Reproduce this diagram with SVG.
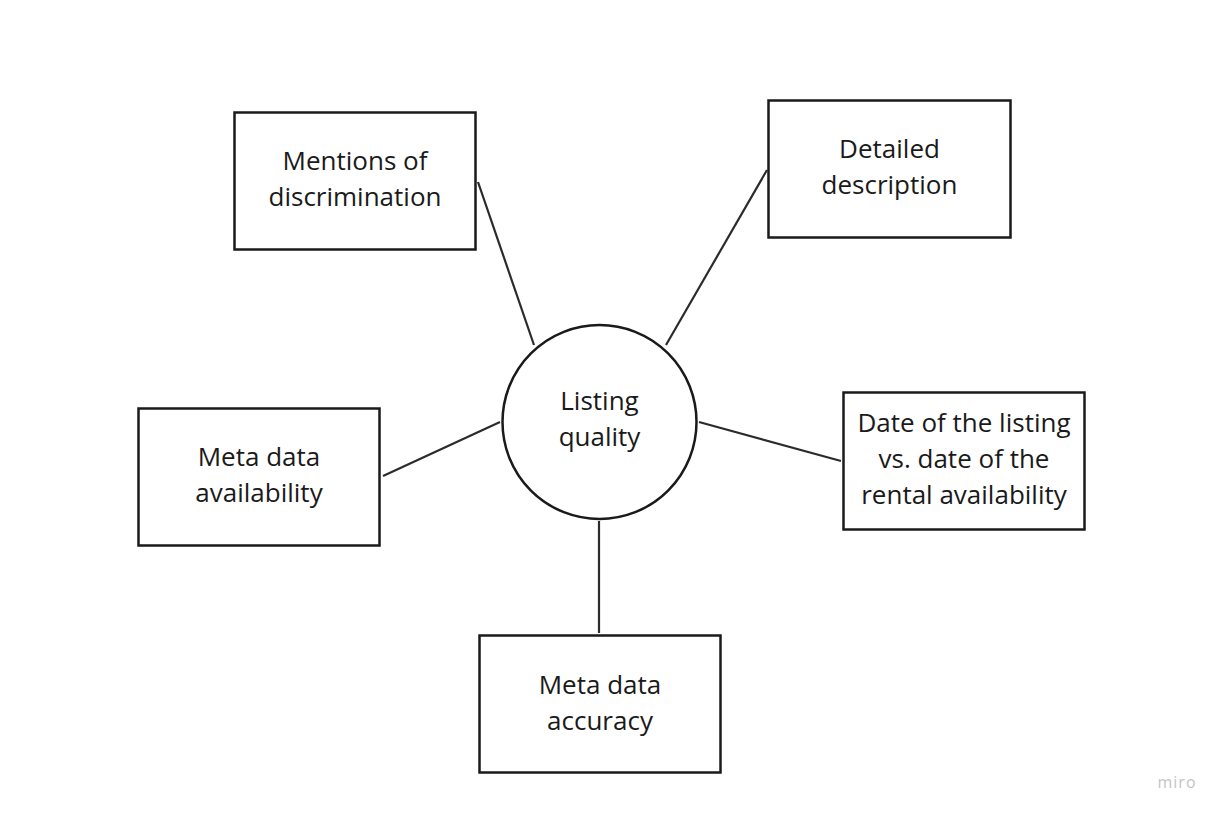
<svg xmlns="http://www.w3.org/2000/svg" width="1224" height="816" viewBox="0 0 1224 816">
<style>
.box{fill:#fff;stroke:#1a1a1a;stroke-width:2.5}
.t{font-family:"Open Sans","Noto Sans",sans-serif;font-size:26px;fill:#1a1a1a;text-anchor:middle}
.c{stroke:#2b2b2b;stroke-width:2.2;fill:none}
</style>
<rect width="1224" height="816" fill="#fff"/>
<g id="connectors">
<line class="c" x1="534" y1="345" x2="478" y2="182"/>
<line class="c" x1="666" y1="345" x2="767" y2="170"/>
<line class="c" x1="500" y1="422" x2="383" y2="476"/>
<line class="c" x1="699" y1="422" x2="841" y2="461"/>
<line class="c" x1="599" y1="521" x2="599" y2="633"/>
</g>
<g id="center">
<circle class="box" cx="599.5" cy="422" r="97"/>
<text class="t" x="599.5" y="410">Listing</text>
<text class="t" x="599.5" y="446">quality</text>
</g>
<g id="mentions">
<rect class="box" x="234.5" y="112.5" width="241" height="137"/>
<text class="t" x="355" y="170">Mentions of</text>
<text class="t" x="355" y="206">discrimination</text>
</g>
<g id="detailed">
<rect class="box" x="768.5" y="100.5" width="242" height="137"/>
<text class="t" x="889.5" y="158">Detailed</text>
<text class="t" x="889.5" y="194">description</text>
</g>
<g id="availability">
<rect class="box" x="138.5" y="408.5" width="241" height="137"/>
<text class="t" x="259" y="466">Meta data</text>
<text class="t" x="259" y="502">availability</text>
</g>
<g id="date">
<rect class="box" x="843.5" y="392.5" width="241" height="137"/>
<text class="t" x="964" y="432">Date of the listing</text>
<text class="t" x="964" y="468">vs. date of the</text>
<text class="t" x="964" y="504">rental availability</text>
</g>
<g id="accuracy">
<rect class="box" x="479.5" y="635.5" width="241" height="137"/>
<text class="t" x="600" y="694">Meta data</text>
<text class="t" x="600" y="730">accuracy</text>
</g>
<text x="1177" y="788" font-family="'Open Sans',sans-serif" font-size="16" fill="#c4c4c4" text-anchor="middle" letter-spacing="1">miro</text>
</svg>
